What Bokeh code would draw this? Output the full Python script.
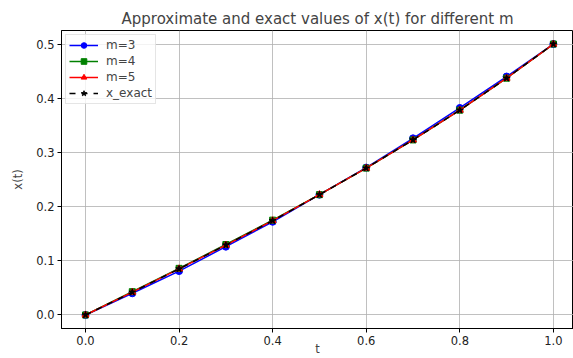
from bokeh.plotting import figure
from bokeh.models import Range1d, FixedTicker, NumeralTickFormatter
from bokeh.embed import file_html
from bokeh.resources import INLINE

t = [0.0, 0.1, 0.2, 0.3, 0.4, 0.5, 0.6, 0.7, 0.8, 0.9, 1.0]
x_m3 = [0.0, 0.040, 0.081, 0.126, 0.172, 0.222, 0.272, 0.326, 0.382, 0.440, 0.5]
x_m4 = [0.0, 0.043, 0.086, 0.130, 0.175, 0.222, 0.271, 0.323, 0.378, 0.437, 0.5]
x_m5 = [0.0, 0.042, 0.085, 0.129, 0.174, 0.222, 0.271, 0.323, 0.378, 0.437, 0.5]
x_exact = [0.0, 0.042, 0.085, 0.129, 0.174, 0.222, 0.271, 0.323, 0.378, 0.437, 0.5]

FONT = "DejaVu Sans"

p = figure(width=573, height=358, output_backend="svg", toolbar_location=None,
           x_range=Range1d(-0.0513, 1.043), y_range=Range1d(-0.025, 0.525),
           title="Approximate and exact values of x(t) for different m",
           min_border_left=61, min_border_right=0, min_border_top=30, min_border_bottom=27)

p.title.text_font = FONT
p.title.text_font_size = "15px"
p.title.text_font_style = "normal"
p.title.align = "center"
p.title.offset = 0
p.title.standoff = 5

p.outline_line_color = "black"
p.outline_line_alpha = 1
p.outline_line_width = 1

for ax in (p.xaxis, p.yaxis):
    ax.major_label_text_font = FONT
    ax.major_label_text_font_size = "11.5px"
    ax.major_label_text_color = "#222222"
    ax.axis_label_text_font = FONT
    ax.axis_label_text_font_size = "11.5px"
    ax.axis_label_text_font_style = "normal"
    ax.minor_tick_line_color = None
    ax.major_tick_out = 4
    ax.major_tick_in = 0
    ax.axis_line_color = "black"
    ax.major_tick_line_color = "black"
    ax.major_label_standoff = 3
    ax.formatter = NumeralTickFormatter(format="0.0")

p.xaxis.ticker = FixedTicker(ticks=[0.0, 0.2, 0.4, 0.6, 0.8, 1.0])
p.yaxis.ticker = FixedTicker(ticks=[0.0, 0.1, 0.2, 0.3, 0.4, 0.5])
p.xaxis.axis_label = "t"
p.yaxis.axis_label = "x(t)"
p.xaxis.axis_label_standoff = -6
p.yaxis.axis_label_standoff = 8

p.grid.grid_line_color = "#b0b0b0"
p.grid.grid_line_width = 0.8

series = [
    (x_m3, "blue", "circle", "m=3", "solid", 7),
    (x_m4, "green", "square", "m=4", "solid", 6),
    (x_m5, "red", "triangle", "m=5", "solid", 7),
    (x_exact, "black", "star", "x_exact", "dashed", 7),
]
for ys, c, mk, lab, dash, sz in series:
    p.line(t, ys, line_color=c, line_width=1.5, line_dash=dash, legend_label=lab)
    p.scatter(t, ys, marker=mk, size=sz, fill_color=c, line_color=c, legend_label=lab)

lg = p.legend[0]
lg.location = "top_left"
lg.margin = 4
lg.padding = 3
lg.spacing = 2
lg.label_text_font = FONT
lg.label_text_font_size = "12px"
lg.glyph_width = 29
lg.glyph_height = 14
lg.label_height = 14
lg.label_standoff = 8
lg.border_line_color = "#cccccc"
lg.border_line_width = 1
lg.background_fill_alpha = 0.8

open("out.html", "w").write(file_html(p, INLINE))
